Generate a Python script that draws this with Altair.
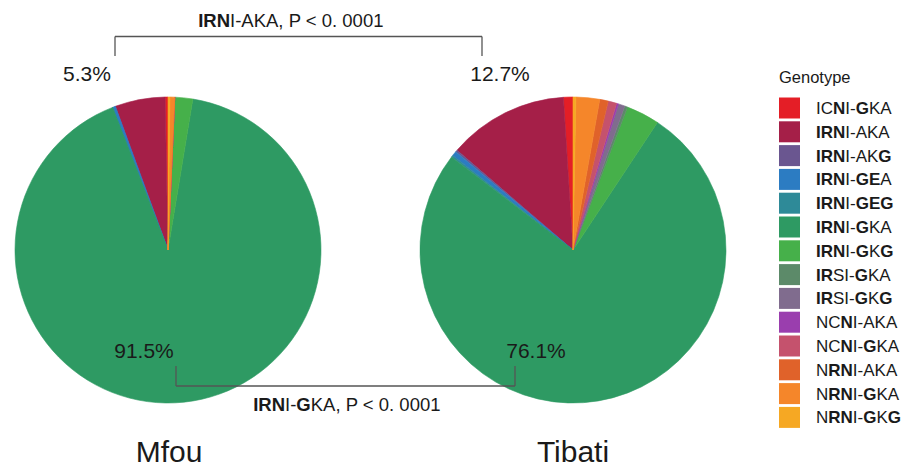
import altair as alt
import pandas as pd

# ---------------- data ----------------
genotypes = ["ICNI-GKA", "IRNI-AKA", "IRNI-AKG", "IRNI-GEA", "IRNI-GEG", "IRNI-GKA", "IRNI-GKG",
             "IRSI-GKA", "IRSI-GKG", "NCNI-AKA", "NCNI-GKA", "NRNI-AKA", "NRNI-GKA", "NRNI-GKG"]
bold_masks = ["00100100", "11100000", "11100001", "11100110", "11100111", "11100100", "11100101",
              "11000100", "11000101", "00100000", "00100100", "01100000", "01100100", "01100101"]
colors = ["#E41E26", "#A51F48", "#6A5690", "#2C7CC2", "#2E8A98", "#2E9A63", "#46B04A",
          "#5C8A69", "#806C8E", "#9A3EAE", "#C5526D", "#E0622A", "#F5862A", "#F6A823"]
mfou_pct = [0.3, 5.3, 0.0, 0.3, 0.0, 91.5, 1.9, 0.0, 0.0, 0.0, 0.0, 0.0, 0.5, 0.2]
tibati_pct = [1.0, 12.7, 0.2, 0.5, 0.2, 76.1, 3.5, 0.3, 0.7, 0.2, 0.9, 0.9, 2.5, 0.3]
sites = ["Mfou", "Tibati"]
top_pct_labels = ["5.3%", "12.7%"]
main_pct_labels = ["91.5%", "76.1%"]
top_test = ("IRNI-AKA, P < 0. 0001", "111")
bottom_test = ("IRNI-GKA, P < 0. 0001", "11100100")
legend_title = "Genotype"

# ---------------- layout (chart coords = page coords - 8) ----------------
OFF = 8
W, H = 893, 460
centers = [(168 - OFF, 250 - OFF), (573 - OFF, 250 - OFF)]
R = 153
FONT = "Liberation Sans, Arial, Helvetica, sans-serif"

REG = {'A': 667, 'C': 722, 'E': 667, 'G': 778, 'I': 278, 'K': 667, 'N': 722, 'R': 722, 'S': 667,
       '-': 333, ',': 278, ' ': 278, 'P': 667, '<': 584, '0': 556, '.': 278, '1': 556, '%': 889}
BOLD = {'A': 722, 'C': 722, 'E': 667, 'G': 778, 'I': 278, 'K': 722, 'N': 722, 'R': 722, 'S': 667,
        '-': 333, ',': 278, ' ': 278}


def runs(text, mask, x0, y, fs, anchor="left"):
    mask = mask.ljust(len(text), "0")
    segs = []
    cur, curb = "", None
    for ch, m in zip(text, mask):
        b = m == "1"
        if curb is None or b == curb:
            cur += ch
            curb = b
        else:
            segs.append((cur, curb))
            cur, curb = ch, b
    segs.append((cur, curb))
    widths = [sum((BOLD if b else REG).get(c, 600) for c in s) * fs / 1000 for s, b in segs]
    start = x0 - sum(widths) / 2 if anchor == "center" else x0
    rows = []
    for (s, b), w in zip(segs, widths):
        rows.append({"t": s, "bold": b, "x": start, "y": y})
        start += w
    return rows


def rich_text(rows, fs, color="#1a1a1a"):
    df = pd.DataFrame(rows)
    layers = []
    for b in (False, True):
        sub = df[df["bold"] == b]
        if len(sub) == 0:
            continue
        layers.append(
            alt.Chart(sub).mark_text(align="left", baseline="middle", font=FONT, fontSize=fs,
                                     fontWeight="bold" if b else "normal", color=color)
            .encode(x=alt.X("x:Q", scale=None), y=alt.Y("y:Q", scale=None), text="t:N")
        )
    return layers


color_scale = alt.Scale(domain=genotypes, range=colors)
color_enc = alt.Color("genotype:N", scale=color_scale, legend=None)
stroke_enc = alt.Stroke("genotype:N", scale=color_scale, legend=None)

# ---------------- pies ----------------
pie_rows = []
for site, vals in zip(sites, [mfou_pct, tibati_pct]):
    for i, (g, v) in enumerate(zip(genotypes, vals)):
        pie_rows.append({"site": site, "genotype": g, "pct": v, "idx": i})
pie_df = pd.DataFrame(pie_rows)

layers = []
for site, (cx, cy) in zip(sites, centers):
    layers.append(
        alt.Chart(pie_df).transform_filter(alt.datum.site == site)
        .mark_arc(radius=R, strokeWidth=0.6)
        .encode(
            x=alt.value(cx), y=alt.value(cy),
            theta=alt.Theta("pct:Q", stack=True),
            color=color_enc,
            stroke=stroke_enc,
            order=alt.Order("idx:Q", sort="descending"),
        )
    )

# ---------------- brackets ----------------
rule_col = "#555555"
def rule(x1, y1, x2, y2):
    return alt.Chart(pd.DataFrame({"k": [0]})).mark_rule(color=rule_col, strokeWidth=1.3).encode(
        x=alt.value(x1 - OFF), x2=alt.value(x2 - OFF), y=alt.value(y1 - OFF), y2=alt.value(y2 - OFF))

layers += [rule(115, 36.5, 482, 36.5), rule(115, 36.5, 115, 56), rule(482, 36.5, 482, 56)]
layers += [rule(176, 386, 515, 386), rule(176, 366, 176, 386), rule(515, 366, 515, 386)]

layers += rich_text(runs(top_test[0], top_test[1], 291 - OFF, 21 - OFF, 18.5, "center"), 18.5)
layers += rich_text(runs(bottom_test[0], bottom_test[1], 347 - OFF, 405 - OFF, 18.5, "center"), 18.5)

# ---------------- percentage labels ----------------
def plain_text(texts, xs, ys, fs, align="center", baseline="middle"):
    df = pd.DataFrame({"t": texts, "x": xs, "y": ys})
    return alt.Chart(df).mark_text(align=align, baseline=baseline, font=FONT, fontSize=fs,
                                   color="#1a1a1a").encode(
        x=alt.X("x:Q", scale=None), y=alt.Y("y:Q", scale=None), text="t:N")

layers.append(plain_text(top_pct_labels, [87 - OFF, 500 - OFF], [75 - OFF, 75 - OFF], 21))
layers.append(plain_text(main_pct_labels, [144 - OFF, 536 - OFF], [352 - OFF, 352 - OFF], 21))
layers.append(plain_text(sites, [169 - OFF, 573 - OFF], [H, H], 30, baseline="bottom"))

# ---------------- legend ----------------
leg_x, leg_y0, leg_dy = 779 - OFF, 108 - OFF, 23.8
leg_df = pd.DataFrame({"genotype": genotypes,
                       "x": [leg_x + 10.5] * len(genotypes),
                       "y": [leg_y0 + i * leg_dy for i in range(len(genotypes))]})
layers.append(
    alt.Chart(leg_df).mark_square(size=441, opacity=1).encode(
        x=alt.X("x:Q", scale=None), y=alt.Y("y:Q", scale=None), color=color_enc)
)
layers.append(plain_text([legend_title], [leg_x], [78 - OFF], 16.5, align="left"))
leg_rows = []
for i, (g, m) in enumerate(zip(genotypes, bold_masks)):
    leg_rows += runs(g, m, 816 - OFF, leg_y0 + i * leg_dy + 1, 17)
layers += rich_text(leg_rows, 17)

chart = alt.layer(*layers).properties(
    width=W, height=H, padding=0, autosize=alt.AutoSizeParams(type="none"),
    background="white",
).configure_view(stroke=None)

chart.save("out.html", embed_options={"renderer": "svg", "actions": False})
